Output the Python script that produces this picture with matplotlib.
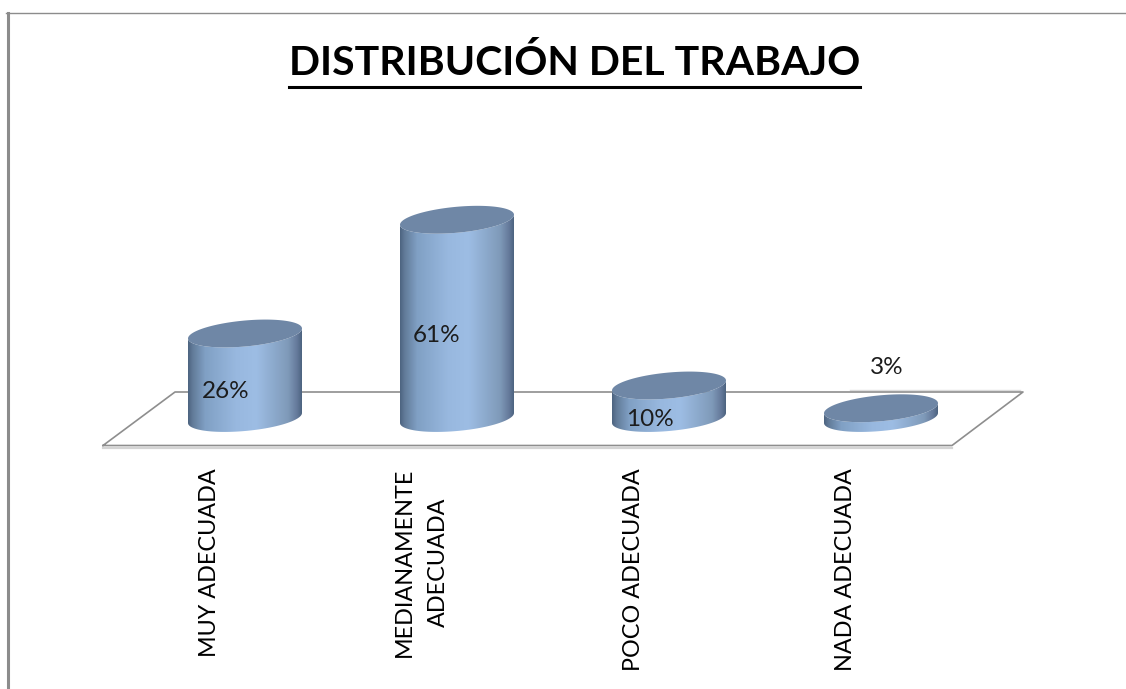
import numpy as np
import matplotlib
matplotlib.use('Agg')
from matplotlib import pyplot as plt
from matplotlib.colors import LinearSegmentedColormap
from matplotlib.patches import Polygon

#Chart data
categories = ['MUY ADECUADA', 'MEDIANAMENTE\nADECUADA', 'POCO ADECUADA', 'NADA ADECUADA']
values = [26, 61, 10, 3]
value_labels = ['26%', '61%', '10%', '3%']

#Scale of the picture: one category step and one percent, in pixels
W, H = 1126, 689
step_px = 212
pct_px = 3.25
x0_px = 245
y0_px = 418

#Helpers to turn pixels into data units
def px_x(p):
	return (p - x0_px) / step_px

def px_y(p):
	return (y0_px - p) / pct_px

fig = plt.figure(figsize=(W / 100, H / 100), dpi=100)
ax = fig.add_axes([0, 0, 1, 1])
ax.axis('off')

plt.rcParams['font.family'] = ['Lato', 'DejaVu Sans']

#Floor of the 3D chart
floor_x = [px_x(103), px_x(952), px_x(1023), px_x(175), px_x(103)]
floor_y = [px_y(445.5), px_y(445.5), px_y(392), px_y(392), px_y(445.5)]
ax.plot(floor_x[:2], [px_y(447.5)] * 2, color='#d4d4d4', lw=1.6, zorder=1)
ax.plot(floor_x, floor_y, color='#8e8e8e', lw=1.2, zorder=2)
ax.plot([px_x(850), px_x(1020)], [px_y(390)] * 2, color='#dcdcdc', lw=1, zorder=1)

#Colours for the cylinders
side_cmap = LinearSegmentedColormap.from_list('side', [
	(0.0, '#4d6480'), (0.04, '#627b99'), (0.15, '#80a0c4'), (0.42, '#98b8df'),
	(0.6, '#9dbde4'), (0.88, '#7f9ab9'), (0.96, '#64799a'), (1.0, '#4d6480')])
top_color = '#6f87a6'
half_w = 57 / step_px
half_h = 13 / pct_px
tilt = 5 / pct_px
t = np.linspace(0, 2 * np.pi, 121)

#Draw every cylinder from its value
for i, v in enumerate(values):
	ex = i + half_w * np.cos(t)
	ey = half_h * np.sin(t) + tilt * np.cos(t)
	#Side: lower half of the base, then upper end of the body
	low = (t >= np.pi) & (t <= 2 * np.pi)
	side_x = np.concatenate([ex[low], ex[low][::-1]])
	side_y = np.concatenate([ey[low], ey[low][::-1] + v])
	side = Polygon(np.column_stack([side_x, side_y]), closed=True, transform=ax.transData,
		facecolor='none', edgecolor='none')
	ax.add_patch(side)
	im = ax.imshow(np.linspace(0, 1, 256).reshape(1, -1), cmap=side_cmap, aspect='auto',
		extent=[i - half_w, i + half_w, -half_h - tilt, v + half_h + tilt], zorder=3)
	im.set_clip_path(side)
	#Top face
	ax.fill(ex, ey + v, color=top_color, lw=0, zorder=4)

#Value labels
label_x = [px_x(226), px_x(437), px_x(650), px_x(887)]
label_y = [px_y(392), px_y(336), px_y(419), px_y(368)]
for x, y, s in zip(label_x, label_y, value_labels):
	ax.text(x, y, s, fontsize=17.5, color='#1c1c1c', ha='center', va='center', zorder=6)

#Category labels
for i, c in enumerate(categories):
	ax.text(i + px_x(209.5), px_y(468), c, rotation=90, fontsize=16.8, color='black',
		ha='center', va='top', multialignment='center', linespacing=1.75, zorder=6)

#Title with its underline
ax.text(px_x(574.5), px_y(63), 'DISTRIBUCIÓN DEL TRABAJO', fontsize=29.5, fontweight='bold',
	color='black', ha='center', va='center', zorder=6)
ax.plot([px_x(289), px_x(860)], [px_y(87)] * 2, color='black', lw=2.2, zorder=6)

#Outer frame, only the top and left side are in the picture
ax.plot([px_x(6), px_x(W)], [px_y(13)] * 2, color='#8c8c8c', lw=1, zorder=1)
ax.plot([px_x(7.5), px_x(7.5)], [px_y(13), px_y(H)], color='#8c8c8c', lw=2.2, zorder=1)

ax.set_xlim(px_x(0), px_x(W))
ax.set_ylim(px_y(H), px_y(0))

fig.savefig('out.png', dpi=100)
